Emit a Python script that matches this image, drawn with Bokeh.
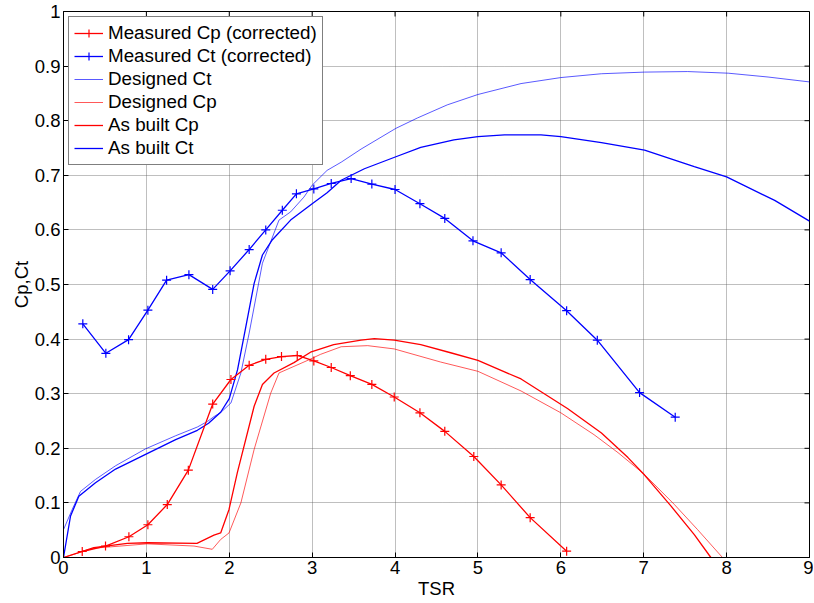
import math
from bokeh.plotting import figure
from bokeh.models import Range1d, FixedTicker, Legend, LegendItem
from bokeh.embed import file_html
from bokeh.resources import INLINE

# ---------------- data ----------------
x_ticks = [0, 1, 2, 3, 4, 5, 6, 7, 8, 9]
x_tick_labels = ["0", "1", "2", "3", "4", "5", "6", "7", "8", "9"]
y_ticks = [0.0, 0.1, 0.2, 0.3, 0.4, 0.5, 0.6, 0.7, 0.8, 0.9, 1.0]
y_tick_labels = ["0", "0.1", "0.2", "0.3", "0.4", "0.5", "0.6", "0.7", "0.8", "0.9", "1"]

meas_cp_x = [0.226, 0.507, 0.789, 1.018, 1.252, 1.506, 1.80, 2.02, 2.24, 2.44, 2.63, 2.82,
             3.02, 3.23, 3.46, 3.72, 3.99, 4.30, 4.60, 4.95, 5.28, 5.63, 6.07]
meas_cp_y = [0.011, 0.021, 0.038, 0.060, 0.097, 0.160, 0.281, 0.326, 0.352, 0.363, 0.368, 0.370,
             0.360, 0.348, 0.333, 0.317, 0.294, 0.265, 0.231, 0.185, 0.133, 0.073, 0.0115]

meas_ct_x = [0.233, 0.511, 0.785, 1.018, 1.244, 1.513, 1.80, 2.01, 2.24, 2.44, 2.64, 2.81, 3.02,
             3.23, 3.47, 3.72, 4.00, 4.30, 4.60, 4.94, 5.28, 5.63, 6.07, 6.44, 6.95, 7.38]
meas_ct_y = [0.428, 0.374, 0.399, 0.453, 0.508, 0.518, 0.491, 0.525, 0.564, 0.600, 0.636, 0.666,
             0.675, 0.685, 0.694, 0.684, 0.674, 0.648, 0.621, 0.580, 0.558, 0.509, 0.452, 0.398,
             0.302, 0.257]

des_ct_x = [0, 0.105, 0.205, 0.386, 0.628, 0.99, 1.353, 1.615, 1.735, 1.815, 1.90, 2.02, 2.14,
            2.24, 2.40, 2.60, 2.74, 2.90, 3.00, 3.18, 3.35, 3.59, 4.01, 4.27, 4.63, 5.00, 5.52,
            6.00, 6.49, 7.01, 7.53, 8.02, 8.50, 9.00]
des_ct_y = [0.051, 0.088, 0.121, 0.143, 0.168, 0.199, 0.223, 0.239, 0.249, 0.258, 0.266, 0.283,
            0.338, 0.411, 0.539, 0.618, 0.633, 0.660, 0.682, 0.709, 0.724, 0.748, 0.786, 0.805,
            0.829, 0.848, 0.868, 0.879, 0.886, 0.889, 0.890, 0.887, 0.880, 0.871]

des_cp_x = [0, 0.366, 1.01, 1.574, 1.795, 1.896, 1.997, 2.14, 2.30, 2.50, 2.60, 2.78, 2.96,
            3.10, 3.35, 3.67, 3.99, 4.55, 5.00, 5.52, 6.00, 6.40, 6.69, 7.01, 7.37, 7.65, 7.95]
des_cp_y = [0, 0.017, 0.025, 0.021, 0.015, 0.033, 0.045, 0.100, 0.198, 0.301, 0.338, 0.350,
            0.362, 0.372, 0.386, 0.388, 0.382, 0.358, 0.341, 0.305, 0.265, 0.225, 0.192, 0.152,
            0.097, 0.051, 0.0]

ab_cp_x = [0, 0.366, 0.77, 1.01, 1.61, 1.815, 1.896, 1.997, 2.098, 2.30, 2.40, 2.54, 2.78,
           2.98, 3.26, 3.59, 3.75, 3.99, 4.31, 4.67, 5.00, 5.52, 6.08, 6.49, 6.81, 7.01, 7.33,
           7.61, 7.81]
ab_cp_y = [0, 0.018, 0.026, 0.027, 0.026, 0.041, 0.045, 0.088, 0.156, 0.277, 0.317, 0.338,
           0.357, 0.376, 0.390, 0.398, 0.401, 0.398, 0.390, 0.375, 0.361, 0.327, 0.273, 0.228,
           0.183, 0.151, 0.094, 0.042, 0.0]

ab_ct_x = [0, 0.085, 0.185, 0.386, 0.628, 0.99, 1.353, 1.615, 1.75, 1.896, 2.00, 2.10, 2.20,
           2.30, 2.40, 2.52, 2.74, 3.00, 3.18, 3.35, 3.63, 4.01, 4.31, 4.71, 5.00, 5.32, 5.76,
           6.00, 6.49, 7.01, 7.61, 8.00, 8.58, 9.00]
ab_ct_y = [0, 0.076, 0.112, 0.137, 0.162, 0.189, 0.216, 0.233, 0.246, 0.266, 0.291, 0.344,
           0.423, 0.502, 0.554, 0.582, 0.618, 0.648, 0.668, 0.691, 0.712, 0.734, 0.751, 0.765,
           0.771, 0.774, 0.774, 0.771, 0.760, 0.746, 0.716, 0.697, 0.654, 0.616]

# ---------------- figure ----------------
FONT = "Liberation Sans"
FS = "18.5px"
X0, X1, Y0, Y1 = 0, 9, 0, 1

p = figure(width=813, height=603, output_backend="svg", toolbar_location=None,
           x_range=Range1d(X0, X1), y_range=Range1d(Y0, Y1),
           min_border_left=63, min_border_right=4, min_border_top=11, min_border_bottom=46,
           x_axis_label="TSR", y_axis_label="Cp,Ct")
p.outline_line_color = "black"
p.outline_line_width = 1
p.background_fill_color = "white"
p.border_fill_color = "white"

for ax, ticks, labels in ((p.xaxis[0], x_ticks, x_tick_labels), (p.yaxis[0], y_ticks, y_tick_labels)):
    ax.ticker = FixedTicker(ticks=ticks)
    ax.major_label_overrides = dict(zip(ticks, labels))
    ax.major_tick_in = 5
    ax.major_tick_out = 0
    ax.minor_tick_line_color = None
    ax.axis_line_color = "black"
    ax.major_tick_line_color = "black"
    ax.major_label_text_font = FONT
    ax.major_label_text_font_size = FS
    ax.major_label_text_color = "black"
    ax.axis_label_text_font = FONT
    ax.axis_label_text_font_size = FS
    ax.axis_label_text_font_style = "normal"
    ax.axis_label_text_color = "black"

p.xaxis[0].major_label_standoff = 3
p.xaxis[0].axis_label_standoff = 1
p.yaxis[0].major_label_standoff = 3
p.yaxis[0].axis_label_standoff = 0

p.grid.grid_line_color = "#606060"
p.grid.grid_line_dash = "1 1"
p.grid.grid_line_width = 1
p.grid.grid_line_alpha = 0.8
p.xgrid.ticker = FixedTicker(ticks=x_ticks)
p.ygrid.ticker = FixedTicker(ticks=y_ticks)

# mirrored inward ticks on top and right edges (MATLAB box style)
p.ray(x=x_ticks, y=[Y1] * len(x_ticks), length=5, length_units="screen",
      angle=-math.pi / 2, line_color="black", line_width=1)
p.ray(x=[X1] * len(y_ticks), y=y_ticks, length=5, length_units="screen",
      angle=math.pi, line_color="black", line_width=1)

RED = "#ff0000"
BLUE = "#0000ff"

r_dct = p.line(des_ct_x, des_ct_y, line_color=BLUE, line_width=1, line_alpha=0.65)
r_dcp = p.line(des_cp_x, des_cp_y, line_color=RED, line_width=1, line_alpha=0.65)
r_acp = p.line(ab_cp_x, ab_cp_y, line_color=RED, line_width=1.3)
r_act = p.line(ab_ct_x, ab_ct_y, line_color=BLUE, line_width=1.3)

r_mcp_l = p.line(meas_cp_x, meas_cp_y, line_color=RED, line_width=1.3)
r_mcp_m = p.scatter(meas_cp_x, meas_cp_y, marker="cross", size=9, line_color=RED, line_width=1.2)
r_mct_l = p.line(meas_ct_x, meas_ct_y, line_color=BLUE, line_width=1.3)
r_mct_m = p.scatter(meas_ct_x, meas_ct_y, marker="cross", size=9, line_color=BLUE, line_width=1.2)

legend = Legend(items=[
    LegendItem(label="Measured Cp (corrected)", renderers=[r_mcp_l, r_mcp_m]),
    LegendItem(label="Measured Ct (corrected)", renderers=[r_mct_l, r_mct_m]),
    LegendItem(label="Designed Ct", renderers=[r_dct]),
    LegendItem(label="Designed Cp", renderers=[r_dcp]),
    LegendItem(label="As built Cp", renderers=[r_acp]),
    LegendItem(label="As built Ct", renderers=[r_act]),
], location="top_left", margin=5, padding=5, spacing=1,
   glyph_width=29, glyph_height=20, label_height=20, label_standoff=5,
   label_text_font=FONT, label_text_font_size="18.8px", label_text_color="black",
   border_line_color="black", border_line_width=1,
   background_fill_color="white", background_fill_alpha=1.0)
p.add_layout(legend)

open("out.html", "w").write(file_html(p, INLINE))
